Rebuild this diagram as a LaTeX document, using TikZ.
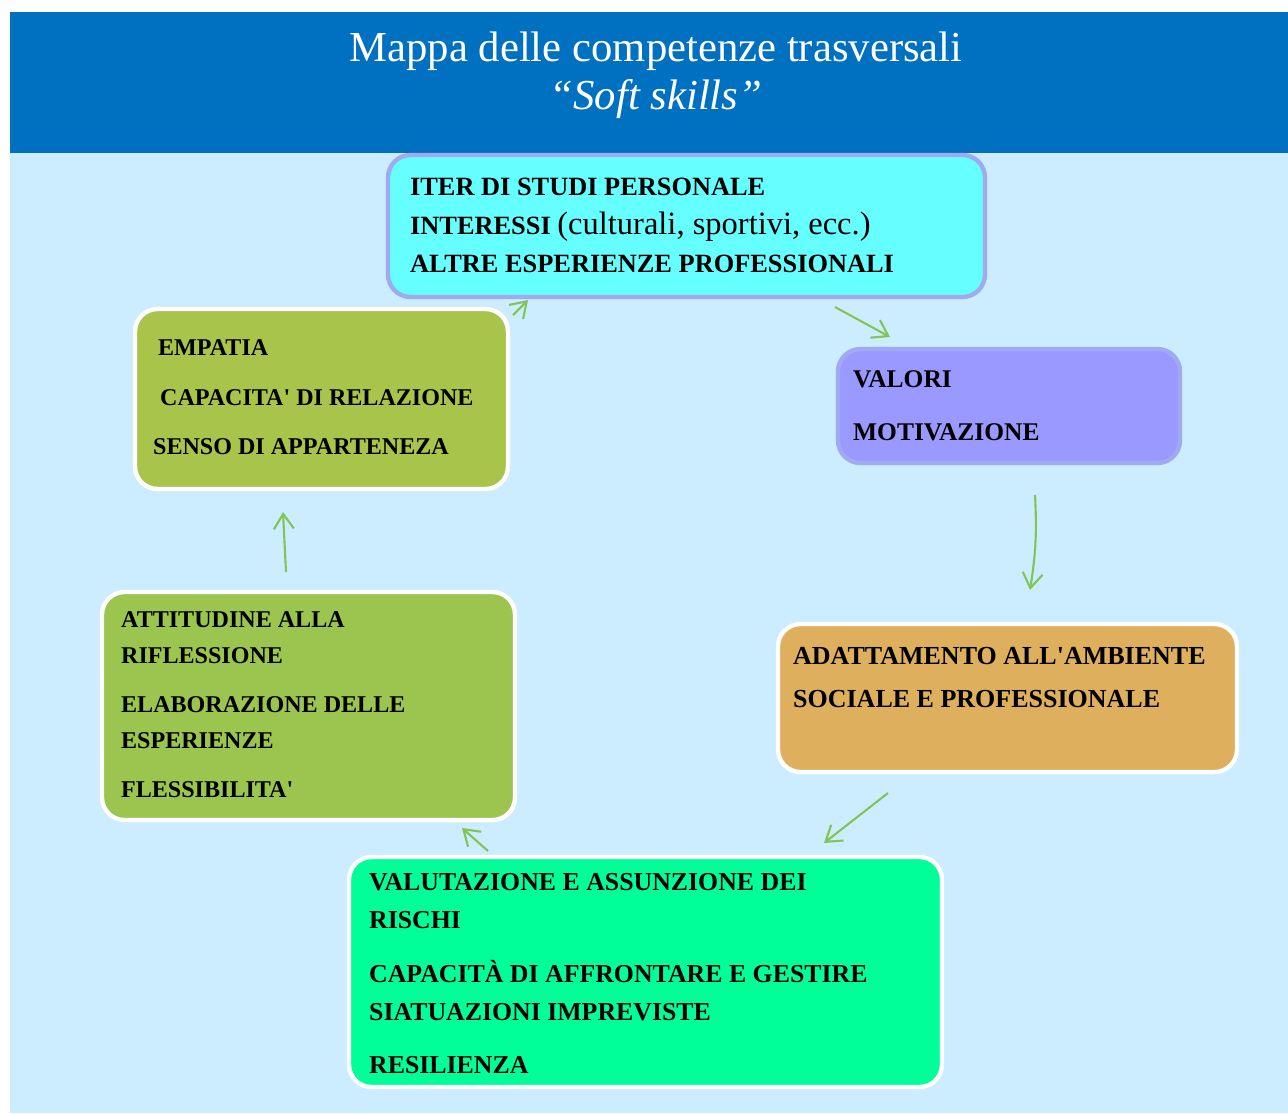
\documentclass[tikz,border=0pt]{standalone}
\usepackage{fontspec}
\setmainfont{Liberation Serif}
\usetikzlibrary{arrows.meta,positioning,fit}

\definecolor{header}{RGB}{0,112,192}
\definecolor{sky}{RGB}{204,236,255}
\definecolor{cyanbox}{RGB}{102,255,255}
\definecolor{lilac}{RGB}{153,153,255}
\definecolor{lilacline}{RGB}{160,170,240}
\definecolor{ochre}{RGB}{222,176,94}
\definecolor{mint}{RGB}{0,255,153}
\definecolor{leaf}{RGB}{155,197,78}
\definecolor{olive}{RGB}{168,196,74}
\definecolor{arrowgreen}{RGB}{130,196,85}

\tikzset{
  box/.style={rounded corners=0.45cm, inner sep=0pt, line width=2.5pt, draw=white},
  boxtext/.style={anchor=base west, inner sep=0pt, align=left},
  flow/.style={arrowgreen, line width=1.2pt, -{Straight Barb[length=3mm,width=4mm]}}
}

\begin{document}
\begin{tikzpicture}[x=0.02cm, y=-0.02cm]

\useasboundingbox (0,0) rectangle (1288,1113);
\fill[white] (0,0) rectangle (1288,1113);
\fill[sky] (10,153) rectangle (1288,1113);
\fill[header] (10,12) rectangle (1288,153);

% base anchor = baseline of the last line
\node[text=white, font=\fontsize{24.3}{27.3}\selectfont, align=center, anchor=base, inner sep=0pt] (title) at (656,109)
  {Mappa delle competenze trasversali\\ \textit{“Soft skills”}};

% the six boxes
\node[box, fill=cyanbox, draw=lilacline, fit={(388,155) (985,297)}] (iter) {};
\node[box, fill=lilac, draw=lilacline, fit={(838,349) (1180,463)}] (valori) {};
\node[box, fill=ochre, fit={(778,624) (1237,772)}] (adatt) {};
\node[box, fill=mint, fit={(349,857) (942,1087)}] (valut) {};
\node[box, fill=leaf, fit={(102,592) (515,820)}] (attit) {};
\node[box, fill=olive, fit={(135,309) (508,489)}] (empatia) {};

% texts
\node[boxtext, font=\bfseries\fontsize{15}{21.9}\selectfont] (iter-t) at ([shift={(24,120)}]iter.north west)
  {ITER DI STUDI PERSONALE\\
   INTERESSI {\mdseries\fontsize{18.5}{21.9}\selectfont (culturali, sportivi, ecc.)}\\
   ALTRE ESPERIENZE PROFESSIONALI};
\node[boxtext, font=\bfseries\fontsize{14.5}{30.2}\selectfont] (valori-t) at ([shift={(17,94)}]valori.north west)
  {VALORI\\ MOTIVAZIONE};
\node[boxtext, font=\bfseries\fontsize{14.8}{24.5}\selectfont] (adatt-t) at ([shift={(17,86)}]adatt.north west)
  {ADATTAMENTO ALL\textquotesingle AMBIENTE\\ SOCIALE E PROFESSIONALE};
\node[boxtext, font=\bfseries\fontsize{14.7}{21.6}\selectfont] (valut-t) at ([shift={(22,219)}]valut.north west)
  {VALUTAZIONE E ASSUNZIONE DEI\\ RISCHI\\[9pt]
   CAPACITÀ DI AFFRONTARE E GESTIRE\\ SIATUAZIONI IMPREVISTE\\[9pt]
   RESILIENZA};
\node[boxtext, font=\bfseries\fontsize{13.7}{20.5}\selectfont] (attit-t) at ([shift={(21,208)}]attit.north west)
  {ATTITUDINE ALLA\\ RIFLESSIONE\\[7.4pt]
   ELABORAZIONE DELLE\\ ESPERIENZE\\[7.4pt]
   FLESSIBILITA\textquotesingle};
\node[boxtext, font=\bfseries\fontsize{13.7}{28.2}\selectfont] (empatia-t) at ([shift={(20,148)}]empatia.north west)
  {\hspace*{0.1cm}EMPATIA\\ \hspace*{0.14cm}CAPACITA\textquotesingle{} DI RELAZIONE\\ SENSO DI APPARTENEZA};

% arrows
\coordinate (i2v-s) at (835,307);  \coordinate (i2v-e) at (890,337);
\coordinate (v2a-s) at (1035,495); \coordinate (v2a-e) at (1030,590);
\coordinate (a2v-s) at (888,793);  \coordinate (a2v-e) at (824,843);
\coordinate (v2t-s) at (488,851);  \coordinate (v2t-e) at (462,828);
\coordinate (t2e-s) at (286,572);  \coordinate (t2e-e) at (283,512);
\coordinate (e2i-s) at (513,315);  \coordinate (e2i-e) at (528,300);

\draw[flow] (i2v-s) -- (i2v-e);
\draw[flow] (v2a-s) to[bend left=6] (v2a-e);
\draw[flow] (a2v-s) -- (a2v-e);
\draw[flow] (v2t-s) -- (v2t-e);
\draw[flow] (t2e-s) -- (t2e-e);
\draw[flow] (e2i-s) -- (e2i-e);

\end{tikzpicture}
\end{document}
